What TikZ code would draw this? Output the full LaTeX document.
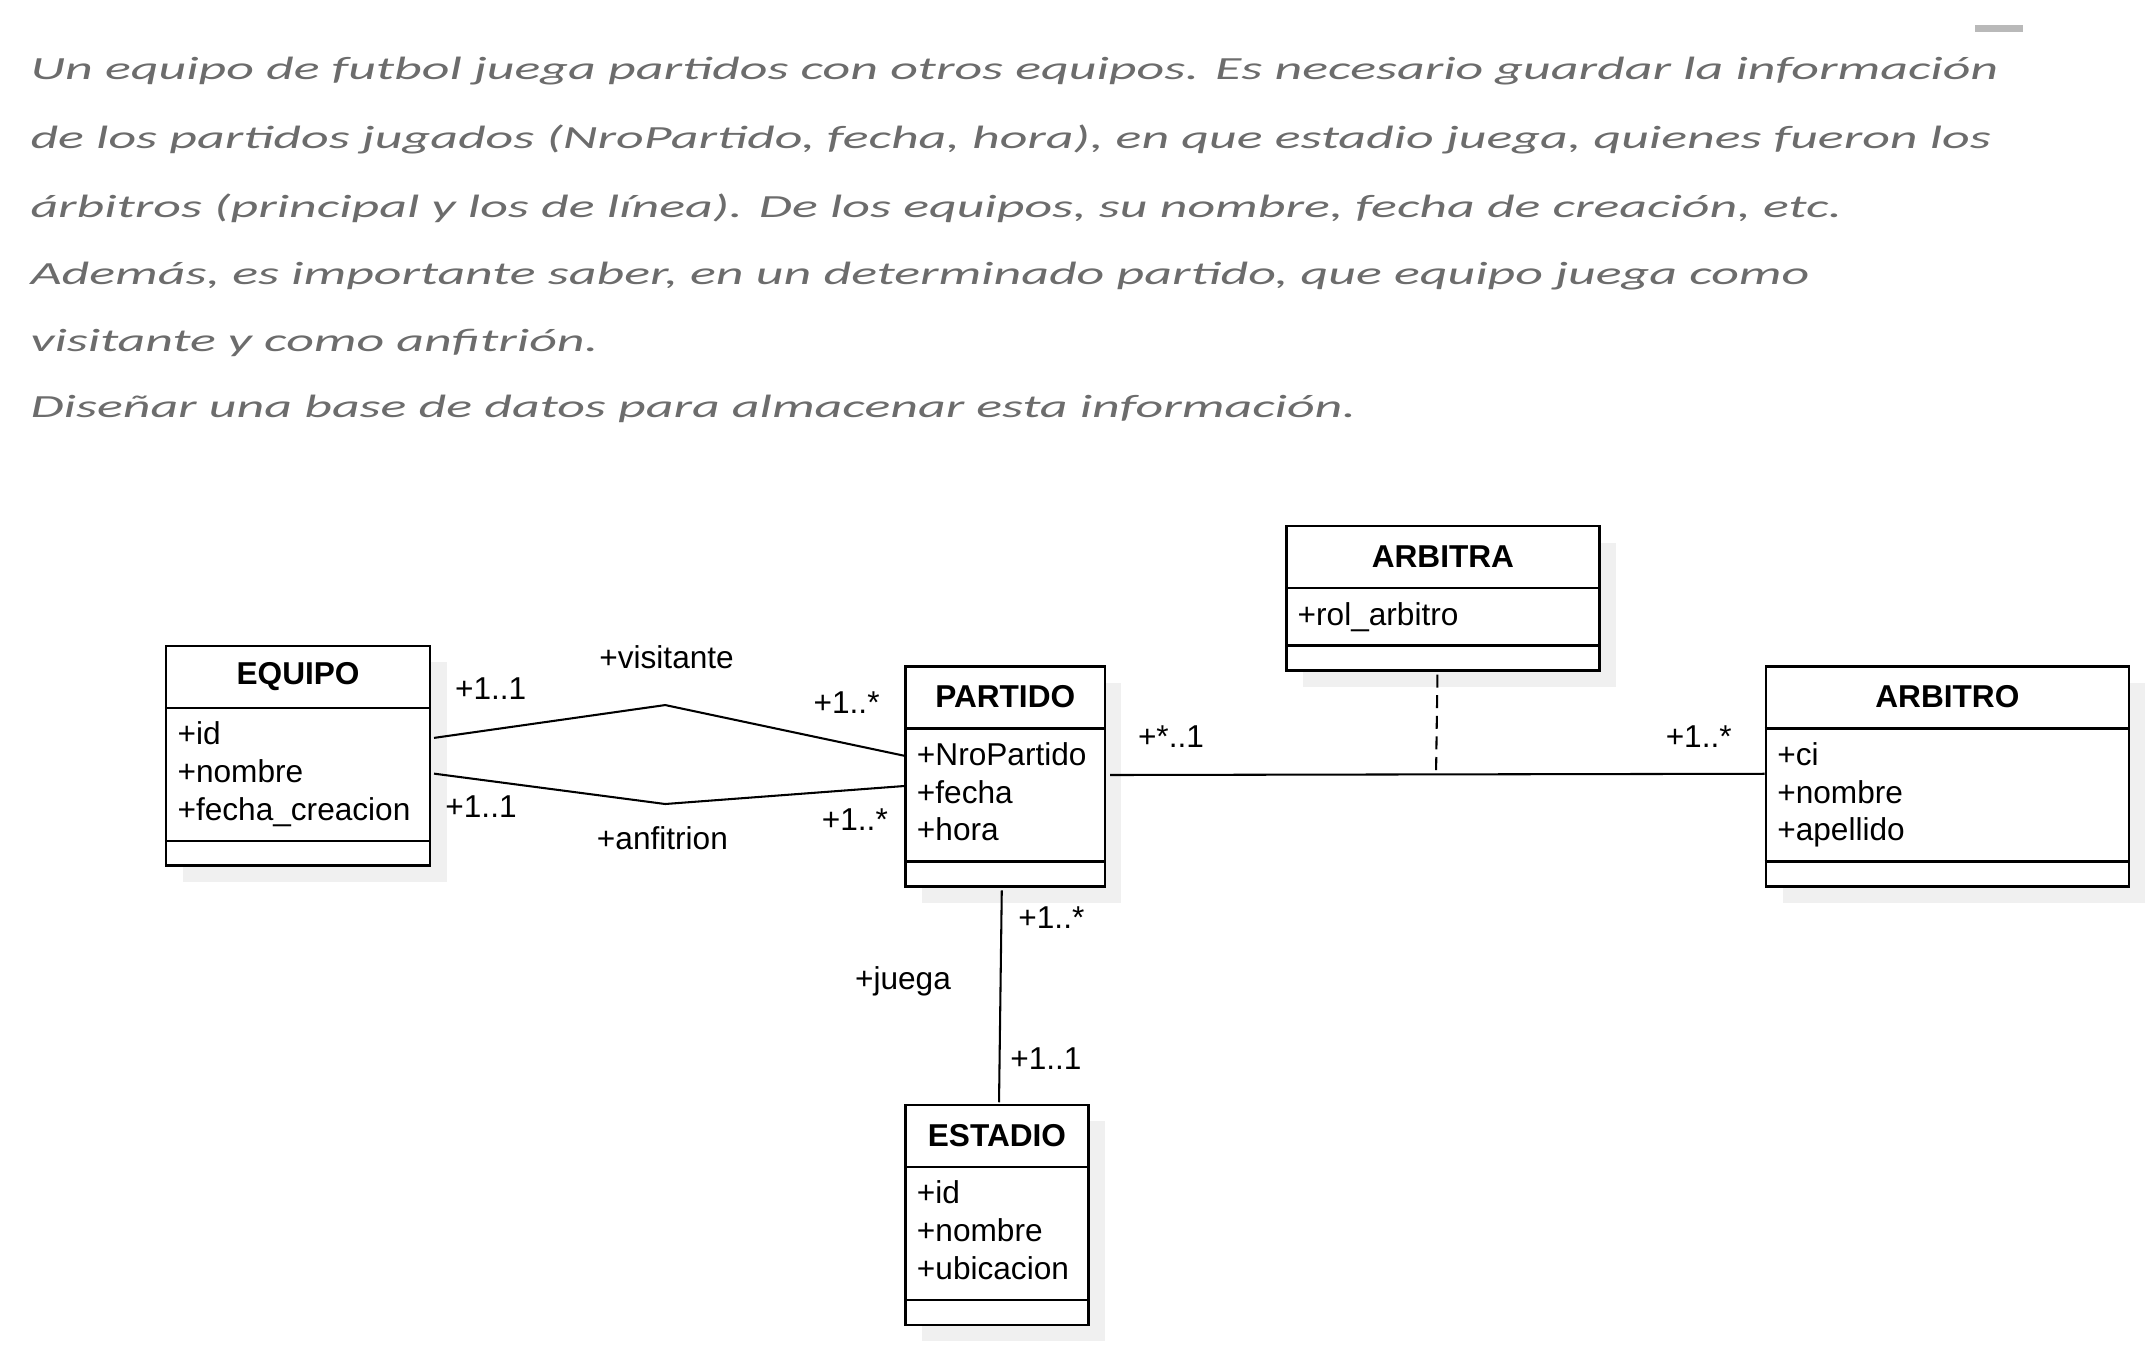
\documentclass[tikz,border=0pt]{standalone}
\usepackage{fontspec}
\setmainfont{Liberation Sans}
\newfontfamily\descfont{Carlito}
\usetikzlibrary{calc}

\definecolor{desctext}{RGB}{108,108,108}
\definecolor{shadowgray}{RGB}{240,240,240}
\definecolor{bargray}{RGB}{185,185,185}

\tikzset{
  classbox/.style={draw, line width=1.8pt, fill=white, inner sep=0pt},
  classline/.style={line width=1.8pt},
  classname/.style={inner sep=0pt, font=\bfseries\fontsize{23}{27.5}\selectfont},
  attrs/.style={anchor=north west, align=left, inner sep=0pt, font=\fontsize{23}{27.5}\selectfont},
  assoc/.style={line width=1.5pt},
  mult/.style={inner sep=0pt, font=\fontsize{23}{27.5}\selectfont},
  descline/.style={anchor=base west, inner sep=0pt, text=desctext, font=\descfont\itshape\fontsize{23.5}{28}\selectfont},
}

% #1 name, #2 top left corner, #3 width, #4 height, #5 title, #6 attributes
\newcommand{\umlclass}[6]{%
  \fill[shadowgray] ($(#2)+(13,13)$) rectangle ++(#3,#4);
  \node[classbox, minimum width=#3pt, minimum height=#4pt, anchor=north west] (#1) at (#2) {};
  \draw[classline] ($(#1.north west)+(0,46)$) -- ($(#1.north east)+(0,46)$);
  \draw[classline] ($(#1.south west)+(0,-19)$) -- ($(#1.south east)+(0,-19)$);
  \node[classname] (#1-title) at ($(#1.north)+(0,23)$) {#5};
  \node[attrs] (#1-attrs) at ($(#1.north west)+(9,56)$) {#6};
}

\begin{document}
\begin{tikzpicture}[x=1pt, y=-1pt]
  \useasboundingbox (0,0) rectangle (1568,982.3);

  % enunciado
  \fill[bargray] (1437,18) rectangle (1472,23);
  \node[descline] (desc1) at (22,58) {\scalebox{1.67}[1]{Un equipo de futbol juega partidos con otros equipos. Es necesario guardar la información}};
  \node[descline] (desc2) at (22,108) {\scalebox{1.67}[1]{de los partidos jugados (NroPartido, fecha, hora), en que estadio juega, quienes fueron los}};
  \node[descline] (desc3) at (22,158) {\scalebox{1.67}[1]{árbitros (principal y los de línea). De los equipos, su nombre, fecha de creación, etc.}};
  \node[descline] (desc4) at (22,207) {\scalebox{1.67}[1]{Además, es importante saber, en un determinado partido, que equipo juega como}};
  \node[descline] (desc5) at (22,256) {\scalebox{1.67}[1]{visitante y como anfitrión.}};
  \node[descline] (desc6) at (22,304) {\scalebox{1.67}[1]{Diseñar una base de datos para almacenar esta información.}};

  % clases
  \umlclass{equipo}{120,469}{192}{160}{EQUIPO}{+id\\+nombre\\+fecha\_creacion}
  \umlclass{partido}{658,484}{145}{160}{PARTIDO}{+NroPartido\\+fecha\\+hora}
  \umlclass{arbitra}{935,382}{228}{105}{ARBITRA}{+rol\_arbitro}
  \umlclass{arbitro}{1284,484}{264}{160}{ARBITRO}{+ci\\+nombre\\+apellido}
  \umlclass{estadio}{658,803}{133}{160}{ESTADIO}{+id\\+nombre\\+ubicacion}

  % asociaciones
  \coordinate (visBend) at (484,513);
  \coordinate (anfBend) at (484,585);
  \draw[assoc] ($(equipo.east)+(2,-13)$) -- (visBend) -- ($(partido.west)+(0,-15)$);
  \draw[assoc] ($(equipo.east)+(2,13)$) -- (anfBend) -- ($(partido.west)+(0,7)$);
  \draw[assoc] ($(partido.east)+(3,-1)$) -- (arbitro.west |- 0,563);
  \draw[assoc, dash pattern=on 9.5pt off 5.5pt] ($(arbitra.south)+(-4,2)$) -- ++(-1,71);
  \draw[assoc] ($(partido.south)+(-2.5,2)$) -- ($(estadio.north)+(1.5,-1)$);

  % roles y multiplicidades
  \node[mult] (visRole) at (485,478) {+visitante};
  \node[mult] (visEq) at (357,501) {+1..1};
  \node[mult] (visPa) at (616,511) {+1..*};
  \node[mult] (anfEq) at (350,587) {+1..1};
  \node[mult] (anfRole) at (482,610) {+anfitrion};
  \node[mult] (anfPa) at (622,596) {+1..*};
  \node[mult] (arbPa) at (852,536) {+*..1};
  \node[mult] (arbAr) at (1236,536) {+1..*};
  \node[mult] (juePa) at (765,668) {+1..*};
  \node[mult] (jueRole) at (657,714) {+juega};
  \node[mult] (jueEs) at (761,770) {+1..1};
\end{tikzpicture}
\end{document}
